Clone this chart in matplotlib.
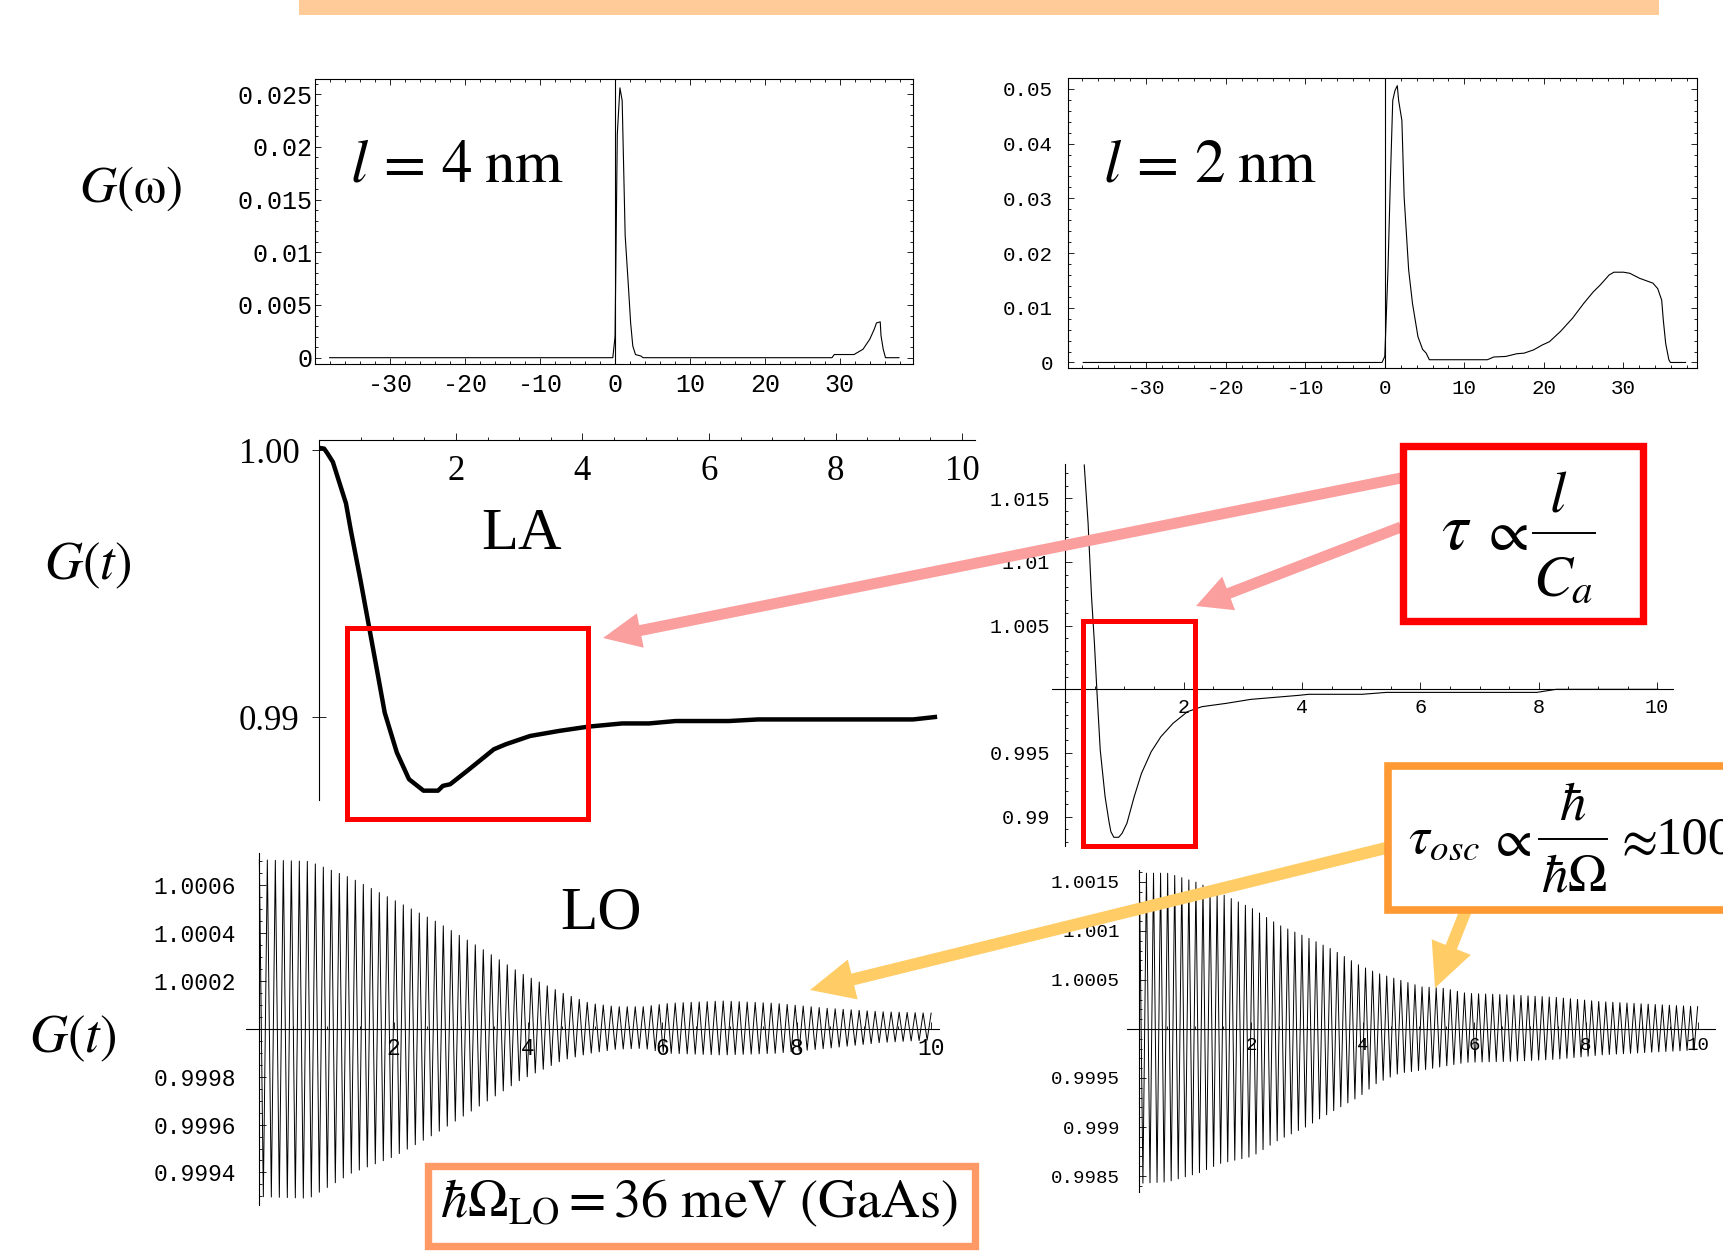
"""Slide figure: phonon spectral density G(w) and correlation G(t) for LA / LO phonons."""

import numpy as np
import matplotlib
matplotlib.use("Agg")
import matplotlib.pyplot as plt
from matplotlib.patches import Rectangle, FancyArrow

W, H = 1723, 1257
plt.rcParams["mathtext.fontset"] = "stix"
plt.rcParams["font.family"] = ["Liberation Serif", "DejaVu Serif"]
MONO = "Liberation Mono"

# ---- G(omega), l = 4 nm ----
w_4nm = [-38.1, -0.3, 0.0, 0.3, 0.65, 0.95, 1.35, 1.78, 2.08, 2.37, 2.73, 3.44, 3.74,
         28.96, 29.26, 31.9, 33.1, 34.0, 34.6, 34.9, 35.4, 35.5, 35.8, 36.1, 37.9]
g_4nm = [0.0, 0.0, 0.002, 0.0212, 0.0256, 0.0244, 0.0116, 0.0068, 0.0033, 0.0011, 0.0003,
         0.00016, 0.0, 0.0, 0.0003, 0.0003, 0.0008, 0.00175, 0.0027, 0.0033, 0.0034,
         0.0021, 0.0008, 0.0, 0.0]

# ---- G(omega), l = 2 nm ----
w_2nm = [-37.9, -0.35, 0.0, 0.4, 0.7, 1.0, 1.28, 1.57, 1.74, 2.15, 2.43, 3.0, 3.48, 4.17,
         4.75, 5.2, 5.6, 12.9, 13.7, 15.2, 16.6, 17.5, 18.7, 19.8, 20.7, 22.1, 23.6, 25.0,
         26.2, 27.1, 28.2, 28.8, 30.0, 30.8, 32.0, 33.7, 34.3, 34.8, 35.0, 35.3, 35.7,
         35.9, 37.8]
g_2nm = [0.0, 0.0, 0.0011, 0.0169, 0.0333, 0.0479, 0.0497, 0.0506, 0.0479, 0.0442, 0.0303,
         0.0169, 0.0108, 0.0047, 0.0024, 0.0017, 0.0005, 0.0005, 0.001, 0.0011, 0.0016,
         0.0017, 0.0023, 0.0032, 0.0038, 0.0057, 0.0081, 0.0108, 0.0129, 0.0142, 0.016,
         0.0165, 0.0165, 0.0163, 0.0154, 0.0145, 0.0135, 0.0114, 0.0078, 0.0035, 0.0005,
         0.0, 0.0]

# ---- G(t), LA phonons, l = 4 nm ----
la_t = [-0.161, -0.084, -0.031, 0.054, 0.261, 0.337, 0.490, 0.644, 0.759, 0.874, 1.065,
        1.257, 1.487, 1.716, 1.793, 1.908, 2.176, 2.406, 2.598, 2.789, 3.172, 3.632,
        4.092, 4.628, 5.050, 5.471, 6.314, 6.774, 9.226, 9.571]
la_g = [1.00009, 1.00006, 0.99988, 0.99956, 0.99801, 0.99701, 0.99514, 0.99315, 0.99166,
        0.99016, 0.98867, 0.98767, 0.98724, 0.98724, 0.98742, 0.98748, 0.98798, 0.98842,
        0.98879, 0.98898, 0.98929, 0.98948, 0.98964, 0.98976, 0.98976, 0.98985, 0.98985,
        0.98991, 0.98991, 0.99000]

# ---- G(t), LA phonons, l = 2 nm ----
la2_t = [0.320, 0.385, 0.443, 0.492, 0.533, 0.590, 0.672, 0.738, 0.770, 0.820, 0.902,
         0.959, 1.041, 1.164, 1.287, 1.451, 1.615, 1.820, 2.066, 2.311, 2.721, 3.131,
         3.951, 4.115, 5.016, 5.426, 7.967, 8.295, 10.016]
la2_g = [1.01762, 1.01304, 1.00728, 1.00361, 0.99995, 0.99524, 0.99157, 0.98961, 0.98882,
         0.98838, 0.98838, 0.98869, 0.98948, 0.99157, 0.99340, 0.99510, 0.99628, 0.99733,
         0.99825, 0.99864, 0.99890, 0.99921, 0.99953, 0.99961, 0.99961, 0.99976, 0.99976,
         1.0, 1.0]

# ---- G(t), LO phonons: oscillation envelope (G - 1) ----
lo4_t = [0.0, 0.74, 1.37, 2.0, 2.63, 3.26, 3.89, 4.52, 4.92, 5.31, 5.71, 6.10, 6.89,
         7.68, 8.46, 9.25, 10.0]
lo4_up = [7.07e-4, 7.00e-4, 6.30e-4, 5.39e-4, 4.49e-4, 3.44e-4, 2.33e-4, 1.49e-4, 1.07e-4,
          0.93e-4, 0.93e-4, 1.07e-4, 1.17e-4, 1.07e-4, 0.86e-4, 0.72e-4, 0.66e-4]
lo4_dn = [-7.01e-4, -7.08e-4, -6.03e-4, -5.34e-4, -4.36e-4, -3.25e-4, -2.13e-4, -1.30e-4,
          -1.02e-4, -0.85e-4, -0.81e-4, -1.02e-4, -1.09e-4, -1.02e-4, -0.81e-4, -0.57e-4,
          -0.46e-4]
lo4_cycles_per_unit = 8.4

lo2_t = [0.0, 0.5, 1.06, 1.46, 2.02, 2.5, 2.98, 3.46, 3.94, 4.26, 4.66, 5.06, 5.46, 5.86,
         6.66, 7.46, 8.26, 9.06, 10.0]
lo2_up = [15.9e-4, 15.9e-4, 14.9e-4, 13.8e-4, 12.3e-4, 10.6e-4, 9.4e-4, 8.1e-4, 6.5e-4,
          5.7e-4, 5.0e-4, 4.3e-4, 4.15e-4, 3.64e-4, 3.47e-4, 3.23e-4, 2.79e-4, 2.55e-4,
          2.28e-4]
lo2_dn = [-15.75e-4, -15.6e-4, -14.7e-4, -13.7e-4, -13.0e-4, -11.3e-4, -10.0e-4, -8.4e-4,
          -6.9e-4, -5.5e-4, -4.5e-4, -4.2e-4, -3.8e-4, -3.4e-4, -3.3e-4, -3.1e-4, -2.65e-4,
          -2.4e-4, -2.14e-4]
lo2_cycles_per_unit = 7.9

# ---- tick labels ----
w_ticks = [-30, -20, -10, 0, 10, 20, 30]
w_labels = ["-30", "-20", "-10", "0", "10", "20", "30"]
g4_ticks = [0, 0.005, 0.01, 0.015, 0.02, 0.025]
g4_labels = ["0", "0.005", "0.01", "0.015", "0.02", "0.025"]
g2_ticks = [0, 0.01, 0.02, 0.03, 0.04, 0.05]
g2_labels = ["0", "0.01", "0.02", "0.03", "0.04", "0.05"]
t_ticks = [2, 4, 6, 8, 10]
t_labels = ["2", "4", "6", "8", "10"]
la_yticks = [0.99, 1.0]
la_ylabels = ["0.99", "1.00"]
la2_yticks = [0.99, 0.995, 1.005, 1.01, 1.015]
la2_ylabels = ["0.99", "0.995", "1.005", "1.01", "1.015"]
lo4_yticks = [0.9994, 0.9996, 0.9998, 1.0002, 1.0004, 1.0006]
lo4_ylabels = ["0.9994", "0.9996", "0.9998", "1.0002", "1.0004", "1.0006"]
lo2_yticks = [0.9985, 0.999, 0.9995, 1.0005, 1.001, 1.0015]
lo2_ylabels = ["0.9985", "0.999", "0.9995", "1.0005", "1.001", "1.0015"]


def px_axes(fig, left, right, top, bottom):
    return fig.add_axes([left / W, 1 - bottom / H, (right - left) / W, (bottom - top) / H])


def frame_style(ax, xt, xl, yt, yl, xminor, yminor, fs, xpad, ypad):
    ax.set_xticks(xt, xl)
    ax.set_yticks(yt, yl)
    ax.set_xticks(xminor, minor=True)
    ax.set_yticks(yminor, minor=True)
    ax.tick_params(which="both", direction="in", top=True, right=True, width=0.6)
    ax.tick_params(which="major", length=4.5)
    ax.tick_params(which="minor", length=2.2)
    ax.tick_params(axis="x", labelsize=fs, pad=xpad, labelfontfamily=MONO)
    ax.tick_params(axis="y", labelsize=fs, pad=ypad, labelfontfamily=MONO)
    for s in ax.spines.values():
        s.set_linewidth(0.8)


def axes_style(ax, xt, xl, yt, yl, xminor, yminor, fs, xpad, ypad, family=MONO,
               x_at=("data", 1.0), y_at=("data", 0.0)):
    for s in ("top", "right"):
        ax.spines[s].set_visible(False)
    ax.spines["bottom"].set_position(x_at)
    ax.spines["left"].set_position(y_at)
    for s in ("bottom", "left"):
        ax.spines[s].set_linewidth(0.8)
    ax.patch.set_visible(False)
    ax.set_xticks(xt, xl)
    ax.set_yticks(yt, yl)
    ax.set_xticks(xminor, minor=True)
    ax.set_yticks(yminor, minor=True)
    ax.tick_params(which="both", direction="in", width=0.6)
    ax.tick_params(which="major", length=5)
    ax.tick_params(which="minor", length=2.5)
    ax.tick_params(axis="x", labelsize=fs, pad=xpad, labelfontfamily=family)
    ax.tick_params(axis="y", labelsize=fs, pad=ypad, labelfontfamily=family)


def zigzag(t_env, up, dn, cycles_per_unit, t_end):
    n = int(2 * cycles_per_unit * t_end)
    tk = np.arange(n + 1) / (2 * cycles_per_unit)
    hi = np.interp(tk, t_env, up)
    lo = np.interp(tk, t_env, dn)
    return tk, 1 + np.where(np.arange(n + 1) % 2 == 0, hi, lo)


fig = plt.figure(figsize=(W / 100, H / 100), dpi=100)

# G(omega), l = 4 nm
ax1 = px_axes(fig, 315.4, 913.2, 79.1, 363.7)
ax1.plot(w_4nm, g_4nm, color="black", lw=0.8)
ax1.axvline(0, color="black", lw=0.8)
ax1.set_xlim(-40.0, 39.8)
ax1.set_ylim(-0.00057, 0.02643)
frame_style(ax1, w_ticks, w_labels, g4_ticks, g4_labels,
            np.arange(-38, 40, 2), np.arange(0, 0.0265, 0.001), 18, 7, 2)

# G(omega), l = 2 nm
ax2 = px_axes(fig, 1068.1, 1696.7, 78.0, 368.1)
ax2.plot(w_2nm, g_2nm, color="black", lw=0.8)
ax2.axvline(0, color="black", lw=0.8)
ax2.set_xlim(-39.8, 39.2)
ax2.set_ylim(-0.00103, 0.052)
frame_style(ax2, w_ticks, w_labels, g2_ticks, g2_labels,
            np.arange(-38, 40, 2), np.arange(0, 0.052, 0.002), 15, 8, 11)

# G(t) LA, l = 4 nm
ax3 = px_axes(fig, 318.7, 974.7, 439.6, 800.0)
ax3.plot(la_t, la_g, color="black", lw=3.2, solid_joinstyle="round")
ax3.set_xlim(-0.17, 10.2)
ax3.set_ylim(0.98689, 1.0004)
axes_style(ax3, t_ticks, t_labels, la_yticks, la_ylabels, np.arange(0.5, 10.1, 0.5), [],
           25, 11, 9, family="Liberation Serif", x_at=("axes", 1.0), y_at=("axes", 0.0))
ax3.tick_params(axis="y", direction="inout", length=10)

# G(t) LA, l = 2 nm
ax4 = px_axes(fig, 1051.7, 1672.5, 463.7, 846.2)
ax4.plot(la2_t, la2_g, color="black", lw=0.8)
ax4.set_xlim(-0.23, 10.26)
ax4.set_ylim(0.98768, 1.01772)
axes_style(ax4, t_ticks, t_labels, la2_yticks, la2_ylabels, np.arange(0.5, 10.1, 0.5),
           np.arange(0.988, 1.0175, 0.001), 14.5, 6, 11)

# G(t) LO, l = 4 nm
ax5 = px_axes(fig, 245.9, 939.2, 853.3, 1205.0)
t5, g5 = zigzag(lo4_t, lo4_up, lo4_dn, lo4_cycles_per_unit, 10.0)
ax5.plot(t5, g5, color="black", lw=0.7)
ax5.set_xlim(-0.2, 10.12)
ax5.set_ylim(0.999264, 1.000734)
axes_style(ax5, t_ticks, t_labels, lo4_yticks, lo4_ylabels, np.arange(0.5, 10.1, 0.5),
           np.arange(0.99930, 1.00072, 0.00005), 16.5, 6, 17)

# G(t) LO, l = 2 nm
ax6 = px_axes(fig, 1127.1, 1715.5, 870.0, 1191.7)
t6, g6 = zigzag(lo2_t, lo2_up, lo2_dn, lo2_cycles_per_unit, 10.0)
ax6.plot(t6, g6, color="black", lw=0.7)
ax6.set_xlim(-0.22, 10.32)
ax6.set_ylim(0.99834, 1.001622)
axes_style(ax6, t_ticks, t_labels, lo2_yticks, lo2_ylabels, np.arange(0.5, 10.1, 0.5),
           np.arange(0.9984, 1.0016, 0.0001), 13.8, 6, 14)

# ---- overlay in pixel coordinates: bar, boxes, arrows, labels ----
ov = fig.add_axes([0, 0, 1, 1])
ov.set_xlim(0, W)
ov.set_ylim(H, 0)
ov.axis("off")

ov.add_patch(Rectangle((299, 0), 1360, 15, facecolor="#FFCC99", edgecolor="none"))

RED = "#FF0000"
ov.add_patch(Rectangle((347, 628), 241, 191, fill=False, edgecolor=RED, lw=3.6))
ov.add_patch(Rectangle((1083, 621), 112, 225, fill=False, edgecolor=RED, lw=3.6))

PINK = "#FB9E9E"
YELLOW = "#FFCC66"
for (x0, y0, x1, y1, c, wd, hw, hl) in [
        (1401, 478, 603, 638, PINK, 11, 35, 38),
        (1401, 527, 1196, 606, PINK, 11, 36, 35),
        (1390, 847, 810, 990, YELLOW, 12, 41, 44),
        (1466, 910, 1435, 988, YELLOW, 12, 42, 44)]:
    ov.add_patch(FancyArrow(x0, y0, x1 - x0, y1 - y0, width=wd, head_width=hw,
                            head_length=hl, length_includes_head=True, color=c, lw=0))

ov.add_patch(Rectangle((1403, 446), 240, 175, facecolor="white", edgecolor=RED, lw=5.3))
ov.add_patch(Rectangle((1388, 766), 400, 144, facecolor="white", edgecolor="#FF9933",
                       lw=5.5, clip_on=False))
ov.add_patch(Rectangle((427.5, 1166), 547, 80, facecolor="white", edgecolor="#FF9966",
                       lw=5.3))

# tau ~ l / C_a
FS1 = 42
ov.text(1441, 549, r"$\tau$", fontsize=FS1 + 6, ha="left", va="baseline")
ov.text(1480, 536, r"$\propto$", fontsize=FS1, ha="left", va="center")
ov.plot([1533, 1595], [533, 533], color="black", lw=1.4)
ov.text(1558, 512, r"$l$", fontsize=FS1, ha="center", va="baseline")
ov.text(1533, 596, r"$C_a$", fontsize=FS1, ha="left", va="baseline")

# tau_osc ~ hbar / hbar Omega ~ 100
FS2 = 38
ov.text(1408, 853, r"$\tau_{osc}$", fontsize=FS2, ha="left", va="baseline")
ov.text(1488, 843, r"$\propto$", fontsize=FS2, ha="left", va="center")
ov.plot([1539, 1607], [839, 839], color="black", lw=1.4)
ov.text(1573, 820, r"$\hbar$", fontsize=FS2, ha="center", va="baseline")
ov.text(1574, 892, r"$\hbar\Omega$", fontsize=FS2, ha="center", va="baseline")
ov.text(1614, 843, r"$\approx$", fontsize=FS2, ha="left", va="center")
ov.text(1655, 853, "100", fontsize=FS2, ha="left", va="baseline")

ov.text(440, 1217, r"$\hbar\Omega_{\mathrm{LO}} = 36\ \mathrm{meV\ (GaAs)}$",
        fontsize=39, ha="left", va="baseline")

ov.text(350, 181.7, r"$l\,=\,4\;\mathrm{nm}$", fontsize=44, ha="left", va="baseline")
ov.text(1103, 181.7, r"$l\,=\,2\;\mathrm{nm}$", fontsize=44, ha="left", va="baseline")
ov.text(79, 189, r"$G(\mathrm{\omega})$", fontsize=37, ha="left", va="center")
ov.text(44, 566, r"$G(t)$", fontsize=38, ha="left", va="center")
ov.text(28.6, 1038.5, r"$G(t)$", fontsize=38, ha="left", va="center")
ov.text(521.6, 535, "LA", fontsize=43.5, ha="center", va="center")
ov.text(600.7, 913.7, "LO", fontsize=44, ha="center", va="center")

fig.savefig("out.png", dpi=100)
